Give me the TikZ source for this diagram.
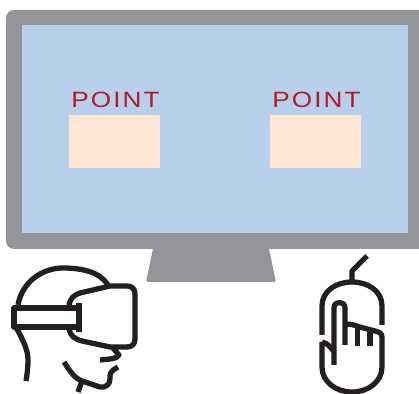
\documentclass[tikz,border=0pt]{standalone}
\usepackage{fontspec}
\setmainfont{Liberation Sans}
\newfontfamily\pointfont[LetterSpace=8]{Liberation Sans}
\definecolor{framegray}{RGB}{147,149,152}
\definecolor{screenblue}{RGB}{184,207,235}
\definecolor{pointpeach}{RGB}{254,229,212}
\definecolor{pointred}{RGB}{175,28,38}
\definecolor{iconblack}{RGB}{35,31,32}
\tikzset{
  iconline/.style={line width=3pt,draw=iconblack,line cap=butt,line join=round},
  pointlabel/.style={text=pointred,font=\pointfont\fontsize{12.6}{12.6}\selectfont,xscale=1.18,transform shape,inner sep=0pt}
}
\begin{document}
\begin{tikzpicture}[x=0.02cm,y=-0.02cm]
\useasboundingbox (0,0) rectangle (419,394);
% Monitor
\fill[framegray,rounded corners=4.5pt] (6,10) -- (6,249) -- (440,249) -- (440,10) -- cycle;
\fill[framegray,rounded corners=1pt] (153.8,245) -- (146,282) -- (276,282) -- (268.2,245) -- cycle;
\fill[screenblue] (22,25) rectangle (408,233);
% Left point
\fill[pointpeach] (69,115) rectangle (160,168);
\node[pointlabel] (leftpoint) at (115.5,100) {POINT};
% Right point
\fill[pointpeach] (270,115) rectangle (361,168);
\node[pointlabel] (rightpoint) at (316.5,100) {POINT};
% Head with headset
\draw[iconline] (18,305) .. controls (22,282) and (42,268) .. (63,268) .. controls (82,268) and (100,272) .. (108,285);
\draw[iconline] (17,329) .. controls (23,340) and (28,350) .. (28,360) .. controls (28,368) and (27,375) .. (26,381);
\draw[iconline] (14,308) rectangle (79,327);
\draw[iconline] (79,303) -- (79,332);
\draw[iconline] (69,306) .. controls (70,298) and (74,295) .. (80,293) -- (110,286) -- (127,286) .. controls (132,286) and (135,289) .. (135,294) -- (135,339) .. controls (135,344) and (132,347) .. (127,347) -- (110,347) -- (82,341) .. controls (74,339) and (70,335) .. (69,329);
\draw[iconline] (113,348) -- (119,355) .. controls (117,359) and (110,359) .. (100,360);
\draw[iconline] (64,362) .. controls (70,371) and (74,378) .. (82,381) -- (100,387) .. controls (106,388) and (110,384) .. (110,379) .. controls (110,374) and (109,372) .. (118,367);
\draw[iconline] (82,381) -- (78,392);
% Mouse
\draw[iconline] (367,256) -- (352,271) -- (352,282);
\draw[iconline] (322,335) -- (322,306) .. controls (322,291) and (336,282) .. (352,282) .. controls (368,282) and (382,291) .. (382,306) -- (382,325);
\draw[iconline] (322,342) -- (322,367) .. controls (322,382) and (336,392) .. (352,392) .. controls (368,392) and (382,382) .. (382,367) -- (382,337) .. controls (382,333) and (379,332) .. (375,331) -- (358,326.5) .. controls (354,325) and (349,323) .. (345,325);
\draw[iconline] (345,345) -- (345,308) .. controls (345,300.5) and (334,300.5) .. (334,308) -- (334,365);
\draw[iconline] (322,342) .. controls (327,343) and (331,347) .. (334,352);
\draw[iconline] (357.5,326) -- (357.5,346);
\draw[iconline] (370,330) -- (370,346);
\end{tikzpicture}
\end{document}
